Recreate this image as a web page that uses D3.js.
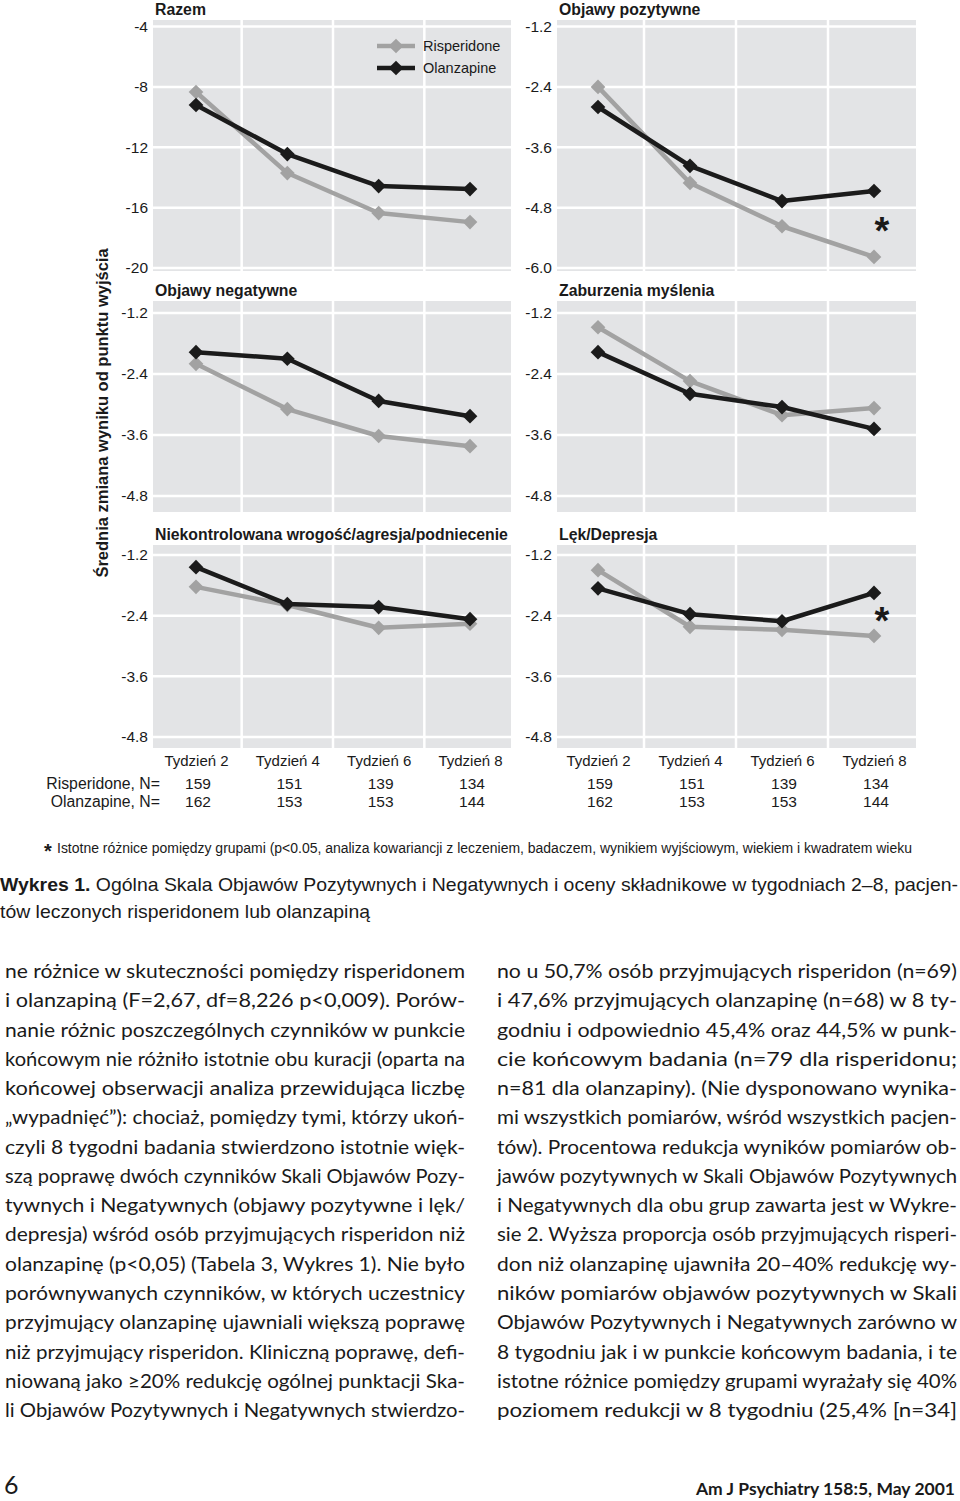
<!DOCTYPE html>
<html><head><meta charset="utf-8">
<script src="https://cdn.jsdelivr.net/npm/d3@7"></script>
<style>
html,body{margin:0;padding:0;background:#fff;}
svg{display:block;}
</style></head>
<body>
<svg id="chart" width="960" height="1501"></svg>
<script>
// ---------- DATA ----------
const weeks = ["Tydzień 2", "Tydzień 4", "Tydzień 6", "Tydzień 8"];
const seriesNames = ["Risperidone", "Olanzapine"];
const nRisperidone = [159, 151, 139, 134];
const nOlanzapine = [162, 153, 153, 144];

const panelTitles = ["Razem", "Objawy pozytywne", "Objawy negatywne", "Zaburzenia myślenia",
  "Niekontrolowana wrogość/agresja/podniecenie", "Lęk/Depresja"];

const ticksRazem = [-4, -8, -12, -16, -20];
const ticksPozytywne = [-1.2, -2.4, -3.6, -4.8, -6.0];
const ticksComponent = [-1.2, -2.4, -3.6, -4.8];

const risRazem = [-8.34, -13.71, -16.36, -16.96];
const olaRazem = [-9.20, -12.45, -14.57, -14.77];
const risPozytywne = [-2.40, -4.31, -5.17, -5.78];
const olaPozytywne = [-2.80, -3.97, -4.67, -4.47];
const risNegatywne = [-2.20, -3.09, -3.62, -3.82];
const olaNegatywne = [-1.97, -2.10, -2.93, -3.23];
const risMyslenie = [-1.48, -2.54, -3.21, -3.07];
const olaMyslenie = [-1.97, -2.79, -3.05, -3.48];
const risWrogosc = [-1.83, -2.19, -2.64, -2.56];
const olaWrogosc = [-1.44, -2.17, -2.23, -2.47];
const risLek = [-1.50, -2.62, -2.68, -2.80];
const olaLek = [-1.86, -2.37, -2.51, -1.95];

const significant = [false, true, false, false, false, true]; // "*" at Tydzień 8

const yAxisTitle = "Średnia zmiana wyniku od punktu wyjścia";
const footnote = "Istotne różnice pomiędzy grupami (p<0.05, analiza kowariancji z leczeniem, badaczem, wynikiem wyjściowym, wiekiem i kwadratem wieku";
const captionBold = "Wykres 1.";
const captionLine1 = " Ogólna Skala Objawów Pozytywnych i Negatywnych i oceny składnikowe w tygodniach 2–8, pacjen-";
const captionLine2 = "tów leczonych risperidonem lub olanzapiną";

const bodyLeft = [
  "ne różnice w skuteczności pomiędzy risperidonem",
  "i olanzapiną (F=2,67, df=8,226 p<0,009). Porów-",
  "nanie różnic poszczególnych czynników w punkcie",
  "końcowym nie różniło istotnie obu kuracji (oparta na",
  "końcowej obserwacji analiza przewidująca liczbę",
  "„wypadnięć”): chociaż, pomiędzy tymi, którzy ukoń-",
  "czyli 8 tygodni badania stwierdzono istotnie więk-",
  "szą poprawę dwóch czynników Skali Objawów Pozy-",
  "tywnych i Negatywnych (objawy pozytywne i lęk/",
  "depresja) wśród osób przyjmujących risperidon niż",
  "olanzapinę (p<0,05) (Tabela 3, Wykres 1). Nie było",
  "porównywanych czynników, w których uczestnicy",
  "przyjmujący olanzapinę ujawniali większą poprawę",
  "niż przyjmujący risperidon. Kliniczną poprawę, defi-",
  "niowaną jako ≥20% redukcję ogólnej punktacji Ska-",
  "li Objawów Pozytywnych i Negatywnych stwierdzo-"
];
const bodyRight = [
  "no u 50,7% osób przyjmujących risperidon (n=69)",
  "i 47,6% przyjmujących olanzapinę (n=68) w 8 ty-",
  "godniu i odpowiednio 45,4% oraz 44,5% w punk-",
  "cie końcowym badania (n=79 dla risperidonu;",
  "n=81 dla olanzapiny). (Nie dysponowano wynika-",
  "mi wszystkich pomiarów, wśród wszystkich pacjen-",
  "tów). Procentowa redukcja wyników pomiarów ob-",
  "jawów pozytywnych w Skali Objawów Pozytywnych",
  "i Negatywnych dla obu grup zawarta jest w Wykre-",
  "sie 2. Wyższa proporcja osób przyjmujących risperi-",
  "don niż olanzapinę ujawniła 20–40% redukcję wy-",
  "ników pomiarów objawów pozytywnych w Skali",
  "Objawów Pozytywnych i Negatywnych zarówno w",
  "8 tygodniu jak i w punkcie końcowym badania, i te",
  "istotne różnice pomiędzy grupami wyrażały się 40%",
  "poziomem redukcji w 8 tygodniu (25,4% [n=34]"
];
const pageNumber = "6";
const journalRef = "Am J Psychiatry 158:5, May 2001";

// ---------- LAYOUT ----------
const COLORS = {bg: "#e3e4e6", ris: "#a2a2a2", ola: "#1b1b1b", text: "#1a1a1a"};
const cols = [
  {x0: 153, x1: 511, p0: 196, p1: 470},
  {x0: 557, x1: 916, p0: 598, p1: 874}
];
const rows = [
  {top: 20, bot: 271, g0: 26.5, g1: 268, title: 15},
  {top: 301, bot: 512, g0: 313, g1: 496, title: 296},
  {top: 545, bot: 748, g0: 555, g1: 737, title: 540}
];

const panels = [
  {title: panelTitles[0], ticks: ticksRazem, ris: risRazem, ola: olaRazem, fmt: d3.format("d"), legend: true},
  {title: panelTitles[1], ticks: ticksPozytywne, ris: risPozytywne, ola: olaPozytywne, fmt: d3.format(".1f")},
  {title: panelTitles[2], ticks: ticksComponent, ris: risNegatywne, ola: olaNegatywne, fmt: d3.format(".1f")},
  {title: panelTitles[3], ticks: ticksComponent, ris: risMyslenie, ola: olaMyslenie, fmt: d3.format(".1f")},
  {title: panelTitles[4], ticks: ticksComponent, ris: risWrogosc, ola: olaWrogosc, fmt: d3.format(".1f")},
  {title: panelTitles[5], ticks: ticksComponent, ris: risLek, ola: olaLek, fmt: d3.format(".1f")}
];

const svg = d3.select("#chart");
const FONT = "'Liberation Sans', Arial, Helvetica, sans-serif";
const diamond = d3.symbol(d3.symbolSquare, 108)();
const hyphen = s => s.replace(/\u2212/g, "-");

panels.forEach((p, i) => {
  const c = cols[i % 2], r = rows[Math.floor(i / 2)];
  const x = d3.scalePoint().domain(weeks).range([c.p0, c.p1]);
  const y = d3.scaleLinear().domain([p.ticks[0], p.ticks[p.ticks.length - 1]]).range([r.g0, r.g1]);
  const g = svg.append("g");

  g.append("rect").attr("x", c.x0).attr("y", r.top).attr("width", c.x1 - c.x0).attr("height", r.bot - r.top)
    .attr("fill", COLORS.bg);

  g.selectAll(".hg").data(p.ticks).join("line")
    .attr("x1", c.x0).attr("x2", c.x1).attr("y1", d => y(d)).attr("y2", d => y(d))
    .attr("stroke", "#fff").attr("stroke-width", 2.5);
  const mids = weeks.slice(0, -1).map((w, k) => (x(w) + x(weeks[k + 1])) / 2);
  g.selectAll(".vg").data(mids).join("line")
    .attr("x1", d => d).attr("x2", d => d).attr("y1", r.top).attr("y2", r.bot)
    .attr("stroke", "#fff").attr("stroke-width", 2.5);

  const ax = g.append("g").attr("transform", `translate(${c.x0 - 5},0)`)
    .call(d3.axisLeft(y).tickValues(p.ticks).tickFormat(d => hyphen(p.fmt(d))).tickSize(0).tickPadding(0));
  ax.select(".domain").remove();
  ax.selectAll("text").attr("font-family", FONT).attr("font-size", 15.5).attr("fill", COLORS.text);

  g.append("text").attr("x", c.x0 + 2).attr("y", r.title).text(p.title)
    .attr("font-family", FONT).attr("font-weight", "bold").attr("font-size", 15.8).attr("fill", COLORS.text);

  const line = d3.line().x((d, k) => x(weeks[k])).y(d => y(d));
  [["ris", COLORS.ris], ["ola", COLORS.ola]].forEach(([key, col]) => {
    g.append("path").datum(p[key]).attr("d", line).attr("fill", "none")
      .attr("stroke", col).attr("stroke-width", 4.5).attr("stroke-linejoin", "round");
    g.selectAll(".pt-" + key).data(p[key]).join("path")
      .attr("d", diamond)
      .attr("transform", (d, k) => `translate(${x(weeks[k])},${y(d)}) rotate(45)`)
      .attr("fill", col);
  });

  if (significant[i]) {
    const yMid = (y(p.ris[3]) + y(p.ola[3])) / 2;
    g.append("text").attr("x", x(weeks[3]) + 8).attr("y", yMid + 20).text("*")
      .attr("text-anchor", "middle").attr("font-family", FONT).attr("font-weight", "bold")
      .attr("font-size", 38).attr("fill", COLORS.text);
  }

  if (p.legend) {
    const lg = g.append("g");
    [[seriesNames[0], COLORS.ris, 46], [seriesNames[1], COLORS.ola, 68]].forEach(([name, col, yy]) => {
      lg.append("line").attr("x1", 377).attr("x2", 415).attr("y1", yy).attr("y2", yy)
        .attr("stroke", col).attr("stroke-width", 4.5);
      lg.append("path").attr("d", diamond).attr("transform", `translate(396,${yy}) rotate(45)`).attr("fill", col);
      lg.append("text").attr("x", 423).attr("y", yy + 5).text(name)
        .attr("font-family", FONT).attr("font-size", 14.5).attr("fill", COLORS.text);
    });
  }

  if (Math.floor(i / 2) === 2) {
    const xa = g.append("g").attr("transform", `translate(0,${r.bot})`)
      .call(d3.axisBottom(x).tickSize(0).tickPadding(7));
    xa.select(".domain").remove();
    xa.selectAll("text").attr("font-family", FONT).attr("font-size", 15).attr("fill", COLORS.text);
    g.selectAll(".nr").data(nRisperidone).join("text")
      .attr("x", (d, k) => x(weeks[k]) + 2).attr("y", 789).attr("text-anchor", "middle").text(d => d)
      .attr("font-family", FONT).attr("font-size", 15.5).attr("fill", COLORS.text);
    g.selectAll(".no").data(nOlanzapine).join("text")
      .attr("x", (d, k) => x(weeks[k]) + 2).attr("y", 807).attr("text-anchor", "middle").text(d => d)
      .attr("font-family", FONT).attr("font-size", 15.5).attr("fill", COLORS.text);
    if (i % 2 === 0) {
      svg.append("text").attr("x", 160).attr("y", 789).attr("text-anchor", "end").text(seriesNames[0] + ", N=")
        .attr("font-family", FONT).attr("font-size", 15.8).attr("fill", COLORS.text);
      svg.append("text").attr("x", 160).attr("y", 807).attr("text-anchor", "end").text(seriesNames[1] + ", N=")
        .attr("font-family", FONT).attr("font-size", 15.8).attr("fill", COLORS.text);
    }
  }
});

// y-axis title
svg.append("text").attr("transform", "translate(108,413) rotate(-90)").attr("text-anchor", "middle")
  .text(yAxisTitle).attr("font-family", FONT).attr("font-weight", "bold").attr("font-size", 16.5)
  .attr("fill", COLORS.text);

// footnote
const NARROW = "'Liberation Sans Narrow', 'Arial Narrow', 'Liberation Sans', sans-serif";
svg.append("text").attr("x", 44).attr("y", 858).text("*")
  .attr("font-family", FONT).attr("font-weight", "bold").attr("font-size", 20).attr("fill", COLORS.text);
svg.append("text").attr("x", 57).attr("y", 853).text(footnote)
  .attr("font-family", NARROW).attr("font-size", 14).attr("fill", COLORS.text)
  .attr("textLength", 855).attr("lengthAdjust", "spacingAndGlyphs");

// caption
const cap = svg.append("text").attr("x", 0).attr("y", 891)
  .attr("font-family", NARROW).attr("font-size", 18.5).attr("fill", COLORS.text)
  .attr("textLength", 958).attr("lengthAdjust", "spacingAndGlyphs");
cap.append("tspan").attr("font-weight", "bold").text(captionBold);
cap.append("tspan").text(captionLine1);
svg.append("text").attr("x", 0).attr("y", 918).text(captionLine2)
  .attr("font-family", NARROW).attr("font-size", 18.5).attr("fill", COLORS.text)
  .attr("textLength", 370).attr("lengthAdjust", "spacingAndGlyphs");

// body text
const BODY = "Lato, 'Open Sans', sans-serif";
[[bodyLeft, 5], [bodyRight, 497]].forEach(([lines, x0]) => {
  svg.selectAll(null).data(lines).join("text")
    .attr("x", x0).attr("y", (d, k) => 978 + k * 29.27).text(d => d)
    .attr("font-family", BODY).attr("font-size", 19).attr("fill", COLORS.text)
    .attr("textLength", 460).attr("lengthAdjust", "spacingAndGlyphs");
});

// footer
svg.append("text").attr("x", 4).attr("y", 1494).text(pageNumber)
  .attr("font-family", BODY).attr("font-size", 25).attr("fill", COLORS.text);
svg.append("text").attr("x", 955).attr("y", 1495).attr("text-anchor", "end").text(journalRef)
  .attr("font-family", BODY).attr("font-weight", "bold").attr("font-size", 17.5).attr("fill", COLORS.text);
</script>
</body></html>
